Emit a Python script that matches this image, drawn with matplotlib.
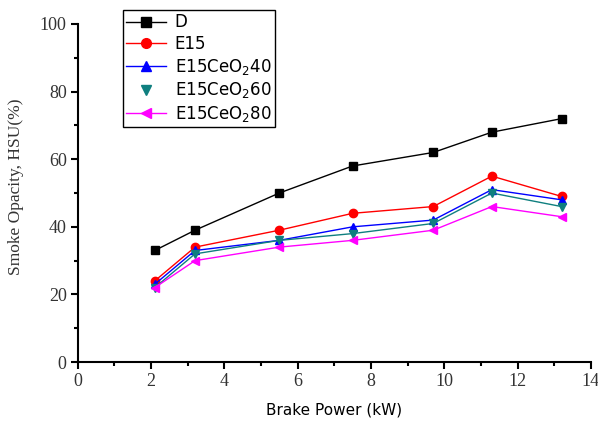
import matplotlib
matplotlib.use("Agg")
import matplotlib.pyplot as plt
from matplotlib.lines import Line2D

brake_power = [2.1, 3.2, 5.5, 7.5, 9.7, 11.3, 13.2]
D = [33, 39, 50, 58, 62, 68, 72]
E15 = [24, 34, 39, 44, 46, 55, 49]
E15CeO2_40 = [23, 33, 36, 40, 42, 51, 48]
E15CeO2_60 = [22, 32, 36, 38, 41, 50, 46]
E15CeO2_80 = [22, 30, 34, 36, 39, 46, 43]

labels = ["D", "E15", "E15CeO$_2$40", "E15CeO$_2$60", "E15CeO$_2$80"]
series = [D, E15, E15CeO2_40, E15CeO2_60, E15CeO2_80]
colors = ["black", "red", "blue", "#0f7f7f", "magenta"]
markers = ["s", "o", "^", "v", "<"]

fig = plt.figure(figsize=(5.98, 4.21), dpi=100)
ax = fig.add_axes([0.130, 0.140, 0.858, 0.803])

for y, c, m in zip(series, colors, markers):
    ax.plot(brake_power, y, color=c, marker=m, markersize=6, linewidth=1.0)

ax.set_xlim(0, 14)
ax.set_ylim(0, 100)
ax.set_xticks([0, 2, 4, 6, 8, 10, 12, 14])
ax.set_xticks([1, 3, 5, 7, 9, 11, 13], minor=True)
ax.set_yticks([0, 20, 40, 60, 80, 100])
ax.set_yticks([10, 30, 50, 70, 90], minor=True)
ax.spines["top"].set_visible(False)
ax.spines["right"].set_visible(False)
for s in ["left", "bottom"]:
    ax.spines[s].set_linewidth(1.5)
ax.tick_params(which="major", direction="out", length=5, width=1.5, labelsize=13, pad=3)
ax.tick_params(which="minor", direction="out", length=3, width=1.5)
for lab in ax.get_xticklabels() + ax.get_yticklabels():
    lab.set_family("Liberation Serif")
    lab.set_color("#333333")

ax.set_xlabel("Brake Power (kW)", fontsize=11, family="DejaVu Sans", labelpad=9)
ax.set_ylabel("Smoke Opacity, HSU(%)", fontsize=12.5, family="Liberation Serif", labelpad=4, color="#333333")
ax.yaxis.set_label_coords(-0.105, 0.52)

handles = []
for i, (c, m) in enumerate(zip(colors, markers)):
    ls = "none" if i == 3 else "-"
    handles.append(Line2D([], [], color=c, marker=m, markersize=7, linewidth=1.0, linestyle=ls))
leg = ax.legend(handles, labels, loc="upper left", bbox_to_anchor=(123 / 598, 1 - 10 / 421),
                bbox_transform=fig.transFigure, fancybox=False, framealpha=1,
                edgecolor="black", fontsize=12, handlelength=2.4, borderpad=0.2,
                labelspacing=0.22, handletextpad=0.5, borderaxespad=0)
leg.get_frame().set_linewidth(1.0)

fig.savefig("out.png", dpi=100)
